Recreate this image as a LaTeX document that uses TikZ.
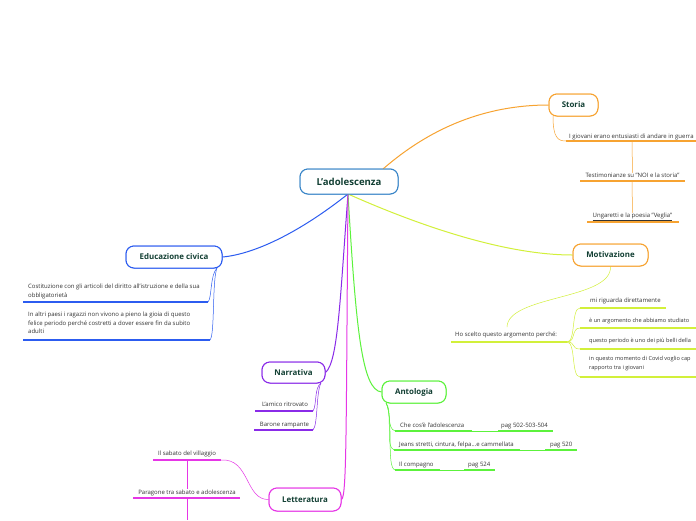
\documentclass[tikz,border=0pt]{standalone}
\usepackage{fontspec}
\setmainfont{Open Sans}
\definecolor{cblue}{HTML}{3A86C8}
\definecolor{ctext}{HTML}{123F33}
\definecolor{cleaf}{HTML}{333333}
\definecolor{corange}{HTML}{F7A331}
\definecolor{clime}{HTML}{D2F03A}
\definecolor{cedu}{HTML}{2C5CF0}
\definecolor{cnarr}{HTML}{8A2BE8}
\definecolor{cant}{HTML}{5CF23C}
\definecolor{clett}{HTML}{E636E6}
\begin{document}
\begin{tikzpicture}[x=1pt,y=-1pt,
  topic/.style={draw, rounded corners=8pt, line width=1pt, fill=white, text=ctext,
    font=\bfseries\fontsize{7.9}{9}\selectfont, inner sep=0pt, minimum height=22pt},
  leaf/.style={text=cleaf, font=\fontsize{6}{8.6}\selectfont, inner sep=0pt},
  mleaf/.style={leaf, font=\fontsize{5.6}{8.6}\selectfont},
  uline/.style={line width=1.3pt},
  conn/.style={line width=1pt},
  thin/.style={line width=0.5pt}]
\useasboundingbox[fill=white] (0,0) rectangle (696,520);

% ---------- main topics (positions for connectors)
\node[topic, draw=cblue, minimum width=98pt, minimum height=25pt, font=\bfseries\fontsize{9.6}{11}\selectfont] (central) at (349,181.5) {L'adolescenza};
\coordinate (cb) at (348,194);
\coordinate (ctr) at (383,169);

\node[topic, draw=corange, minimum width=49pt] (storia) at (573.5,105) {Storia};
\node[topic, draw=corange, minimum width=75pt] (motiv) at (610.5,255) {Motivazione};
\node[topic, draw=cedu, minimum width=96pt] (edu) at (174,257) {Educazione civica};
\node[topic, draw=cnarr, minimum width=63pt, minimum height=21pt] (narr) at (293.5,372.5) {Narrativa};
\node[topic, draw=cant, minimum width=64pt] (anto) at (414,392) {Antologia};
\node[topic, draw=clett, minimum width=72pt, minimum height=23pt] (lett) at (305,499.5) {Letteratura};

% ---------- main connectors
\draw[conn, corange] (ctr) .. controls (430,128) and (485,105) .. (storia.west);
\draw[conn, clime] (cb) .. controls (420,226) and (505,255) .. (motiv.west);
\draw[conn, cedu] (cb) .. controls (300,232) and (255,254) .. (edu.east);
\draw[conn, cnarr] (cb) .. controls (340,300) and (338,362) .. (narr.east);
\draw[conn, cant] (cb) .. controls (356,330) and (362,390) .. (anto.west);
\draw[conn, clett] (cb) .. controls (346,420) and (347,497) .. (lett.east);

% ---------- Storia
\coordinate (s1l) at (566,141); \coordinate (s1r) at (696,141);
\draw[uline, corange] (s1l) -- (s1r);
\node[leaf, anchor=base west] (s1) at (569,138) {I giovani erano entusiasti di andare in guerra};
\draw[thin, corange] (553,116) .. controls (553,138) and (558,141) .. (s1l);
\coordinate (s2l) at (580,181); \coordinate (s2r) at (685,181);
\draw[uline, corange] (s2l) -- (s2r);
\node[leaf, anchor=base] (s2) at (632.5,177.5) {Testimonianze su "NOI e la storia"};
\draw[thin, corange] (632,142) -- (s2.north);
\coordinate (s3l) at (587,222); \coordinate (s3r) at (679,222);
\draw[uline, corange] (s3l) -- (s3r);
\node[leaf, anchor=base] (s3) at (632.5,217.5) {\underline{Ungaretti e la poesia "Veglia"}};
\draw[thin, corange] (632,182) -- (s3.north);

% ---------- Motivazione
\coordinate (hl) at (451,342); \coordinate (hr) at (567,342);
\draw[uline, clime] (hl) -- (hr);
\node[leaf, anchor=base west] (ho) at (455,336.5) {Ho scelto questo argomento perché:};
\draw[thin, clime] (motiv.south) .. controls (612,300) and (508,295) .. (507,327);
\foreach \y/\r/\n in {308/666/m1, 328/696/m2, 349/696/m3, 377/696/m4}{
  \coordinate (\n l) at (580,\y); \coordinate (\n r) at (\r,\y);
  \draw[uline, clime] (\n l) -- (\n r);
  \draw[thin, clime] (hr) .. controls (576,342) and (571,\y) .. (\n l);
}
\node[leaf, anchor=base west] at (590,302.5) {mi riguarda direttamente};
\node[mleaf, anchor=base west] at (589,322.5) {è un argomento che abbiamo studiato};
\node[mleaf, anchor=base west] at (589,342.5) {questo periodo è uno dei più belli della};
\node[mleaf, anchor=north west, align=left] at (589,356) {in questo momento di Covid voglio cap\\rapporto tra i  giovani};

% ---------- Educazione civica
\coordinate (e1l) at (23,302); \coordinate (e1r) at (208,302);
\draw[uline, cedu] (e1l) -- (e1r);
\node[leaf, anchor=north west, align=left] at (28,284) {Costituzione con gli articoli del diritto all'istruzione e della sua\\obbligatorietà};
\coordinate (e2l) at (23,340); \coordinate (e2r) at (210,340);
\draw[uline, cedu] (e2l) -- (e2r);
\node[leaf, anchor=north west, align=left] at (28,312) {In altri paesi i ragazzi non vivono a pieno la gioia di questo\\felice periodo perché costretti a dover essere fin da subito\\adulti};
\draw[thin, cedu] (217,268) .. controls (210,275) and (212,298) .. (e1r);
\draw[thin, cedu] (217,268) .. controls (212,280) and (215,335) .. (e2r);

% ---------- Narrativa
\coordinate (n1l) at (255,411); \coordinate (n1r) at (313,411);
\draw[uline, cnarr] (n1l) -- (n1r);
\node[leaf, anchor=base] at (285,406.5) {L'amico ritrovato};
\coordinate (n2l) at (254,430); \coordinate (n2r) at (313,430);
\draw[uline, cnarr] (n2l) -- (n2r);
\node[leaf, anchor=base] at (284.5,426) {Barone rampante};
\draw[thin, cnarr] (321,383) .. controls (314,388) and (317,405) .. (n1r);
\draw[thin, cnarr] (321,383) .. controls (316,392) and (318,425) .. (n2r);

% ---------- Antologia
\coordinate (a1l) at (395,431); \coordinate (a1r) at (472,431);
\coordinate (p1l) at (498,431); \coordinate (p1r) at (553,431);
\draw[uline, cant] (a1l) -- (a1r); \draw[uline, cant] (p1l) -- (p1r);
\draw[thin, cant] (a1r) -- (p1l);
\node[leaf, anchor=base west] at (400,427) {Che cos'è l'adolescenza};
\node[leaf, anchor=base west] at (501,427) {pag 502-503-504};
\coordinate (a2l) at (394,450); \coordinate (a2r) at (520,450);
\coordinate (p2l) at (545,450); \coordinate (p2r) at (577,450);
\draw[uline, cant] (a2l) -- (a2r); \draw[uline, cant] (p2l) -- (p2r);
\draw[thin, cant] (a2r) -- (p2l);
\node[leaf, anchor=base west] at (399,446) {Jeans stretti, cintura, felpa...e cammellata};
\node[leaf, anchor=base west] at (550,446) {pag 520};
\coordinate (a3l) at (395,470); \coordinate (a3r) at (440,470);
\coordinate (p3l) at (464,470); \coordinate (p3r) at (495,470);
\draw[uline, cant] (a3l) -- (a3r); \draw[uline, cant] (p3l) -- (p3r);
\draw[thin, cant] (a3r) -- (p3l);
\node[leaf, anchor=base west] at (399,466) {Il compagno};
\node[leaf, anchor=base west] at (468,466) {pag 524};
\draw[thin, cant] (386,403) .. controls (392,410) and (386,428) .. (a1l);
\draw[thin, cant] (386,403) .. controls (393,415) and (385,447) .. (a2l);
\draw[thin, cant] (386,403) .. controls (394,420) and (386,467) .. (a3l);

% ---------- Letteratura
\coordinate (l1l) at (153,460); \coordinate (l1r) at (221,460);
\draw[uline, clett] (l1l) -- (l1r);
\node[leaf, anchor=base] (l1) at (187,455) {Il sabato del villaggio};
\draw[thin, clett] (l1r) .. controls (250,458) and (245,500) .. (lett.west);
\coordinate (l2l) at (133,498); \coordinate (l2r) at (240,498);
\draw[uline, clett] (l2l) -- (l2r);
\node[leaf, anchor=base] (l2) at (187,494) {Paragone tra sabato e adolescenza};
\coordinate (lbot) at (187,520);
\draw[thin, clett] (187,461) -- (l2.north);
\draw[thin, clett] (187,499) -- (lbot);

% redraw topic nodes on top of connectors
\node[topic, draw=cblue, minimum width=98pt, minimum height=25pt, font=\bfseries\fontsize{9.6}{11}\selectfont] at (349,181.5) {L'adolescenza};
\node[topic, draw=corange, minimum width=49pt] at (573.5,105) {Storia};
\node[topic, draw=corange, minimum width=75pt] at (610.5,255) {Motivazione};
\node[topic, draw=cedu, minimum width=96pt] at (174,257) {Educazione civica};
\node[topic, draw=cnarr, minimum width=63pt, minimum height=21pt] at (293.5,372.5) {Narrativa};
\node[topic, draw=cant, minimum width=64pt] at (414,392) {Antologia};
\node[topic, draw=clett, minimum width=72pt, minimum height=23pt] at (305,499.5) {Letteratura};
\end{tikzpicture}
\end{document}
